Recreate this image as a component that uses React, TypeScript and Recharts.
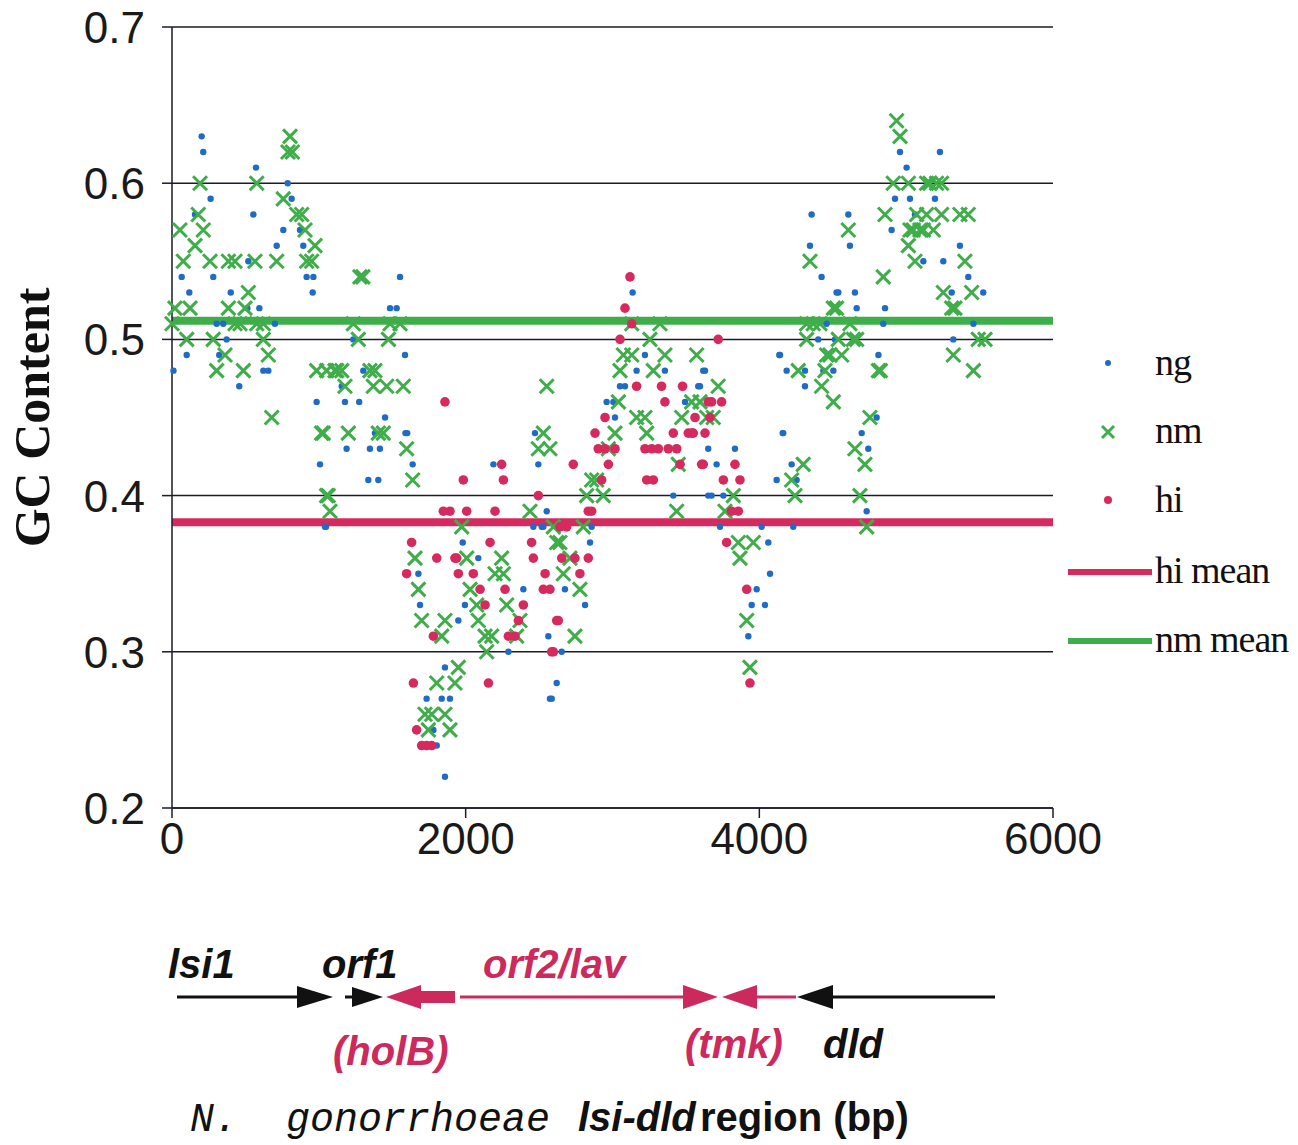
import React from "react";
import { ScatterChart, Scatter, XAxis, YAxis, CartesianGrid, ReferenceLine } from "recharts";

// GC content windows along the N. gonorrhoeae lsi-dld region, [position bp, GC]
const ng: [number, number][] = [
  [10, 0.48], [66, 0.54], [100, 0.49], [118, 0.53], [157, 0.58], [202, 0.63], [213, 0.62], [263, 0.59],
  [281, 0.54], [304, 0.51], [322, 0.49], [349, 0.51], [372, 0.5], [400, 0.53], [458, 0.47], [513, 0.52],
  [520, 0.55], [554, 0.58], [572, 0.61], [595, 0.52], [622, 0.48], [656, 0.48], [701, 0.51], [713, 0.56],
  [758, 0.57], [788, 0.6], [815, 0.59], [872, 0.57], [894, 0.56], [917, 0.54], [958, 0.53], [963, 0.54],
  [985, 0.46], [1008, 0.42], [1049, 0.38], [1042, 0.38], [1156, 0.47], [1178, 0.46], [1235, 0.5], [1275, 0.46],
  [1303, 0.48], [1189, 0.43], [1348, 0.43], [1382, 0.44], [1416, 0.43], [1451, 0.45], [1485, 0.52], [1530, 0.52],
  [1553, 0.54], [1587, 0.49], [1602, 0.44], [1337, 0.41], [1405, 0.41], [1639, 0.42], [1590, 0.44],
  [1980, 0.37], [2189, 0.42], [2472, 0.44], [2495, 0.42], [2552, 0.39], [2461, 0.38], [2529, 0.38], [2166, 0.37],
  [2086, 0.36], [1678, 0.35], [2393, 0.34], [1689, 0.33], [1995, 0.33], [1950, 0.32], [2563, 0.31], [2291, 0.3],
  [1859, 0.29], [2620, 0.28], [2574, 0.27], [1734, 0.27], [1837, 0.27], [1893, 0.27], [1780, 0.25], [1803, 0.24],
  [1859, 0.22], [3137, 0.53], [3221, 0.49], [3164, 0.48], [3357, 0.48], [3618, 0.48], [3051, 0.47], [3085, 0.47],
  [3584, 0.47], [2960, 0.46], [3006, 0.46], [3494, 0.46], [3017, 0.45], [3414, 0.4], [3652, 0.4], [2518, 0.38],
  [2858, 0.38], [2847, 0.37], [2676, 0.34], [2813, 0.33], [2654, 0.3], [2586, 0.27],
  [4424, 0.54], [4526, 0.53], [4458, 0.51], [4401, 0.5], [4515, 0.5], [4136, 0.49], [3630, 0.48], [4186, 0.48],
  [4311, 0.48], [4436, 0.48], [4504, 0.48], [3596, 0.47], [4311, 0.47], [3652, 0.43], [3834, 0.43], [4159, 0.44],
  [3709, 0.42], [4220, 0.42], [4118, 0.41], [3675, 0.4], [3755, 0.4], [3732, 0.38], [4016, 0.38], [4231, 0.38],
  [4061, 0.37], [4073, 0.35], [3982, 0.34], [3948, 0.33], [4038, 0.33], [3925, 0.31],
  [4958, 0.62], [5003, 0.61], [4924, 0.59], [5026, 0.59], [4901, 0.57], [5060, 0.58], [5117, 0.55], [4356, 0.58],
  [4606, 0.58], [4345, 0.56], [4617, 0.56], [4538, 0.53], [4651, 0.53], [4663, 0.52], [4856, 0.52], [4844, 0.51],
  [4141, 0.49], [4811, 0.49], [4799, 0.45], [4163, 0.44], [4697, 0.44], [4742, 0.43], [4254, 0.41], [4731, 0.39],
  [5230, 0.62], [5196, 0.59], [5366, 0.56], [5253, 0.55], [5423, 0.54], [5310, 0.53], [5525, 0.53], [5458, 0.51],
  [5321, 0.5],
];

const nm: [number, number][] = [
  [804, 0.63], [790, 0.62], [820, 0.62], [191, 0.6], [577, 0.6], [758, 0.59], [179, 0.58], [849, 0.58],
  [883, 0.58], [54, 0.57], [213, 0.57], [906, 0.57], [157, 0.56], [974, 0.56], [77, 0.55], [259, 0.55],
  [384, 0.55], [429, 0.55], [565, 0.55], [713, 0.55], [917, 0.55], [951, 0.55], [520, 0.53], [20, 0.52],
  [123, 0.52], [384, 0.52], [497, 0.52], [0, 0.51], [429, 0.51], [463, 0.51], [577, 0.51], [622, 0.51],
  [100, 0.5], [281, 0.5], [622, 0.5], [361, 0.49], [656, 0.49], [304, 0.48], [486, 0.48], [985, 0.48],
  [1122, 0.48], [679, 0.45], [1019, 0.44], [1064, 0.4], [1076, 0.39],
  [1280, 0.54], [1300, 0.54], [1235, 0.51], [1485, 0.51], [1553, 0.51], [1269, 0.5], [1474, 0.5], [1053, 0.48],
  [1110, 0.48], [1156, 0.48], [1348, 0.48], [1382, 0.48], [1178, 0.47], [1371, 0.47], [1462, 0.47], [1575, 0.47],
  [1030, 0.44], [1201, 0.44], [1439, 0.44], [1598, 0.43], [1405, 0.44], [1639, 0.41], [1053, 0.4], [1973, 0.38],
  [1655, 0.36], [2007, 0.36],
  [2552, 0.47], [2529, 0.44], [2495, 0.43], [2574, 0.43], [2438, 0.39], [2620, 0.37], [1678, 0.34], [2030, 0.34],
  [2075, 0.33], [2279, 0.33], [1700, 0.32], [1859, 0.32], [2086, 0.32], [2370, 0.32], [1837, 0.31], [2132, 0.31],
  [2177, 0.31], [2347, 0.31], [2143, 0.3], [1950, 0.29], [1803, 0.28], [1927, 0.28], [1723, 0.26], [1769, 0.26],
  [1859, 0.26], [1746, 0.25], [1893, 0.25], [2245, 0.36], [2200, 0.35], [2257, 0.35],
  [3131, 0.51], [3323, 0.51], [3255, 0.5], [3074, 0.49], [3131, 0.49], [3357, 0.49], [3573, 0.49], [3051, 0.48],
  [3278, 0.48], [3040, 0.46], [3539, 0.46], [3596, 0.46], [3164, 0.45], [3221, 0.45], [3471, 0.45], [3017, 0.44],
  [3233, 0.44], [2972, 0.43], [3448, 0.42], [2858, 0.41], [2892, 0.41], [2824, 0.4], [2937, 0.4], [3437, 0.39],
  [2597, 0.38], [2801, 0.38], [2642, 0.37], [2710, 0.36], [2665, 0.35], [2778, 0.34], [2744, 0.31],
  [4345, 0.55], [4504, 0.52], [4322, 0.51], [4367, 0.51], [4413, 0.51], [4322, 0.5], [4458, 0.49], [4265, 0.48],
  [3720, 0.47], [4424, 0.47], [4504, 0.46], [3641, 0.45], [3686, 0.45], [4299, 0.42], [4220, 0.41], [4243, 0.4],
  [3823, 0.4], [3766, 0.39], [3857, 0.37], [3959, 0.37], [3868, 0.36], [3914, 0.32], [3936, 0.29],
  [4935, 0.64], [4958, 0.63], [4912, 0.6], [5015, 0.6], [5139, 0.6], [4856, 0.58], [5071, 0.58], [5139, 0.58],
  [5026, 0.57], [5094, 0.57], [5015, 0.56], [5060, 0.55], [4606, 0.57], [4844, 0.54], [4526, 0.52], [4617, 0.51],
  [4640, 0.5], [4663, 0.5], [4538, 0.5], [4481, 0.49], [4561, 0.49], [4447, 0.48], [4811, 0.48], [4824, 0.48],
  [4753, 0.45], [4651, 0.43], [4719, 0.42], [4685, 0.4], [4731, 0.38],
  [5162, 0.6], [5207, 0.6], [5241, 0.6], [5241, 0.58], [5366, 0.58], [5423, 0.58], [5048, 0.57], [5117, 0.57],
  [5185, 0.57], [5400, 0.55], [5253, 0.53], [5446, 0.53], [5310, 0.52], [5332, 0.52], [5491, 0.5], [5537, 0.5],
  [5321, 0.49], [5458, 0.48],
];

const hi: [number, number][] = [
  [1859, 0.46], [1984, 0.41], [1848, 0.39], [2007, 0.39], [1632, 0.37], [1803, 0.36], [1939, 0.36],
  [2245, 0.42], [2257, 0.41], [2495, 0.4], [1893, 0.39], [2200, 0.39], [2166, 0.37], [2449, 0.37], [1927, 0.36],
  [2461, 0.36], [1598, 0.35], [1950, 0.35], [2052, 0.35], [2541, 0.35], [2098, 0.34], [2268, 0.34], [2529, 0.34],
  [2574, 0.34], [2132, 0.33], [2393, 0.33], [2359, 0.32], [2620, 0.32], [1780, 0.31], [2291, 0.31], [2336, 0.31],
  [2597, 0.3], [1644, 0.28], [2155, 0.28], [1666, 0.25], [1700, 0.24], [1734, 0.24], [1769, 0.24],
  [3119, 0.54], [3085, 0.52], [3131, 0.51], [3051, 0.5], [3164, 0.47], [3334, 0.47], [3477, 0.47], [3357, 0.46],
  [3652, 0.46], [2949, 0.45], [3562, 0.45], [2881, 0.44], [3414, 0.44], [3516, 0.44], [3550, 0.44], [3630, 0.44],
  [2903, 0.43], [2949, 0.43], [3017, 0.43], [3221, 0.43], [3267, 0.43], [3312, 0.43], [3380, 0.43], [3437, 0.43],
  [2733, 0.42], [2972, 0.42], [3460, 0.42], [3607, 0.42], [3233, 0.41], [3278, 0.41], [2926, 0.41], [2835, 0.39],
  [2858, 0.39], [2642, 0.38], [2688, 0.38], [2654, 0.36], [2744, 0.36], [2835, 0.36], [2778, 0.35], [2631, 0.32],
  [2586, 0.3],
  [3720, 0.5], [3675, 0.46], [3743, 0.46], [3664, 0.45], [3539, 0.44], [3618, 0.42], [3834, 0.42], [3755, 0.41],
  [3868, 0.41], [3811, 0.39], [3857, 0.39], [3777, 0.37], [3914, 0.34], [3936, 0.28],
];

const hiMean = 0.383;
const nmMean = 0.512;

const xTicks = [0, 2000, 4000, 6000];
const yTicks = [0.2, 0.3, 0.4, 0.5, 0.6, 0.7];

const BLUE = "#1f6cc6";
const GREEN = "#3fae4a";
const RED = "#d62a5e";
const GENE_RED = "#cc2a5c";

const toPts = (a: [number, number][]) => a.map(([x, y]) => ({ x, y }));

const NgDot = (p: any) => <circle cx={p.cx} cy={p.cy} r={3.2} fill={BLUE} />;
const NmCross = (p: any) => (
  <path
    d={`M${p.cx - 7},${p.cy - 7}L${p.cx + 7},${p.cy + 7}M${p.cx - 7},${p.cy + 7}L${p.cx + 7},${p.cy - 7}`}
    stroke={GREEN}
    strokeWidth={3}
  />
);
const HiDot = (p: any) => <circle cx={p.cx} cy={p.cy} r={4.8} fill={RED} />;

const tickFont = "'Liberation Sans Narrow', 'Liberation Sans', Arial, sans-serif";
const narrowBold = "'Liberation Sans Narrow', 'Liberation Sans', Arial, sans-serif";

// legend sits to the right of the plot, drawn as its own svg
function LegendBox() {
  const row = (marker: React.ReactNode, label: string, y: number) => (
    <g key={label}>
      {marker}
      <text x={95} y={y} fontFamily="'Liberation Serif', serif" fontSize={38} fill="#111" letterSpacing={-1}>
        {label}
      </text>
    </g>
  );
  return (
    <svg width={238} height={340} style={{ position: "absolute", left: 1060, top: 330, overflow: "visible" }}>
      {row(<circle cx={48} cy={33} r={3} fill={BLUE} />, "ng", 45)}
      {row(<path d="M42,96L54,108M42,108L54,96" stroke={GREEN} strokeWidth={3} />, "nm", 113)}
      {row(<circle cx={48} cy={170} r={4} fill={RED} />, "hi", 182)}
      {row(<line x1={8} x2={92} y1={242} y2={242} stroke={RED} strokeWidth={6} />, "hi mean", 253)}
      {row(<line x1={8} x2={92} y1={311} y2={311} stroke={GREEN} strokeWidth={6} />, "nm mean", 322)}
    </svg>
  );
}

function GeneMap() {
  const t = { fontFamily: narrowBold, fontWeight: 700, fontStyle: "italic" as const, fontSize: 40 };
  return (
    <svg width={1298} height={1145} style={{ position: "absolute", left: 0, top: 0, pointerEvents: "none" }}>
      <text x={168} y={978} fill="#111" {...t}>lsi1</text>
      <text x={322} y={978} fill="#111" {...t}>orf1</text>
      <text x={483} y={978} fill={GENE_RED} {...t}>orf2/lav</text>
      <text x={333} y={1065} fill={GENE_RED} {...t}>(holB)</text>
      <text x={685} y={1058} fill={GENE_RED} {...t}>(tmk)</text>
      <text x={823} y={1058} fill="#111" {...t}>dld</text>

      <line x1={177} x2={300} y1={997} y2={997} stroke="#111" strokeWidth={3} />
      <polygon points="297,986 333,997 297,1008" fill="#111" />
      <line x1={345} x2={356} y1={997} y2={997} stroke="#111" strokeWidth={3} />
      <polygon points="352,987 383,997 352,1007" fill="#111" />
      <polygon points="421,985 386,997 421,1009" fill={GENE_RED} />
      <rect x={418} y={991} width={37} height={12} fill={GENE_RED} />
      <line x1={460} x2={690} y1={997} y2={997} stroke={GENE_RED} strokeWidth={3} />
      <polygon points="683,985 718,997 683,1009" fill={GENE_RED} />
      <polygon points="757,985 722,997 757,1009" fill={GENE_RED} />
      <line x1={755} x2={796} y1={997} y2={997} stroke={GENE_RED} strokeWidth={3} />
      <polygon points="833,985 797,997 833,1009" fill="#111" />
      <line x1={830} x2={995} y1={997} y2={997} stroke="#111" strokeWidth={3} />

      <text y={1131} fill="#111" fontSize={40} style={{ whiteSpace: "pre" }}>
        <tspan x={190} fontFamily="'Liberation Mono', 'Courier New', monospace" fontStyle="italic">
          {"N.  gonorrhoeae"}
        </tspan>
        <tspan x={578} fontFamily={narrowBold} fontWeight={700} fontStyle="italic">lsi-dld</tspan>
        <tspan x={700} fontFamily={narrowBold} fontWeight={700}>region (bp)</tspan>
      </text>
    </svg>
  );
}

const XTick = (p: any) => (
  <text x={p.x} y={p.y} dy={34} textAnchor="middle" fontFamily={tickFont} fontSize={44} fill="#1a1a1a">
    {p.payload.value}
  </text>
);

const YTick = (p: any) => (
  <text x={p.x} y={p.y} dy={16} textAnchor="end" fontFamily={tickFont} fontSize={44} fill="#1a1a1a">
    {Number(p.payload.value).toFixed(1)}
  </text>
);

export default function App() {
  return (
    <div style={{ position: "absolute", left: 0, top: 0, width: 1298, height: 1145, background: "#fff" }}>
      <ScatterChart width={1298} height={1145} margin={{ top: 27, right: 245, bottom: 277, left: 0 }}>
        <CartesianGrid horizontal vertical={false} stroke="#1b1b2a" strokeWidth={1.5} />
        <XAxis
          type="number"
          dataKey="x"
          domain={[0, 6000]}
          ticks={xTicks}
          height={60}
          axisLine={{ stroke: "#1b1b2a", strokeWidth: 1.5 }}
          tickLine={{ stroke: "#1b1b2a", strokeWidth: 1.5 }}
          tickSize={10}
          tick={<XTick />}
        />
        <YAxis
          type="number"
          dataKey="y"
          domain={[0.2, 0.7]}
          ticks={yTicks}
          width={172}
          axisLine={{ stroke: "#1b1b2a", strokeWidth: 1.5 }}
          tickLine={{ stroke: "#1b1b2a", strokeWidth: 1.5 }}
          tickSize={10}
          tickMargin={17}
          tick={<YTick />}
          label={{
            value: "GC Content",
            angle: -90,
            position: "insideLeft",
            dx: 26,
            style: { fontFamily: "'Liberation Serif', serif", fontWeight: 700, fontSize: 50, fill: "#111", textAnchor: "middle" },
          }}
        />
        <ReferenceLine y={nmMean} stroke={GREEN} strokeWidth={8} ifOverflow="visible" />
        <ReferenceLine y={hiMean} stroke={RED} strokeWidth={8} ifOverflow="visible" />
        <Scatter name="ng" data={toPts(ng)} shape={NgDot} isAnimationActive={false} />
        <Scatter name="nm" data={toPts(nm)} shape={NmCross} isAnimationActive={false} />
        <Scatter name="hi" data={toPts(hi)} shape={HiDot} isAnimationActive={false} />
      </ScatterChart>
      <LegendBox />
      <GeneMap />
    </div>
  );
}
